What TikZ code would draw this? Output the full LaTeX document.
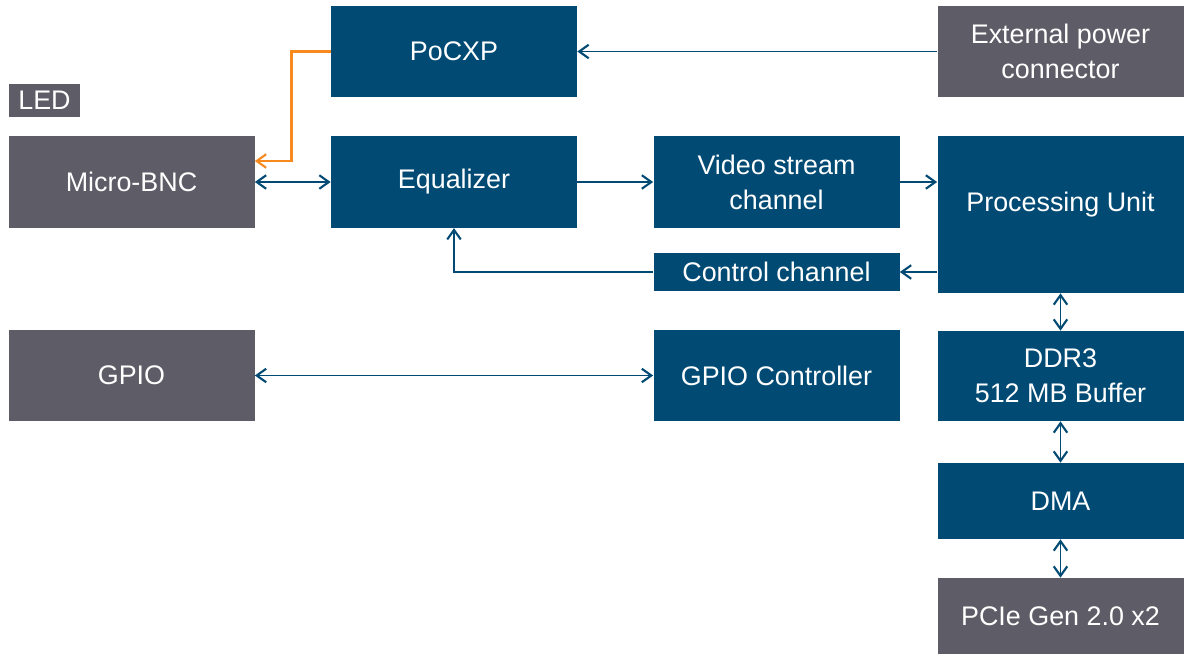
\documentclass[tikz,border=0pt]{standalone}
\usepackage{fontspec}
\setmainfont{Liberation Sans}
\usetikzlibrary{arrows.meta}
\definecolor{cxblue}{RGB}{0,74,116}
\definecolor{cxgrey}{RGB}{94,92,102}
\definecolor{cxorange}{RGB}{247,137,30}
\tikzset{
  blk/.style={fill=cxblue, text=white, inner sep=0pt, align=center,
    font=\fontsize{15.3}{20}\selectfont},
  ext/.style={blk, fill=cxgrey},
  big/.style={minimum width=4.92cm, minimum height=1.83cm},
  link/.style={draw=cxblue, line width=1pt}
}
\begin{document}
\begin{tikzpicture}[>={Straight Barb[length=1.9mm,width=2.7mm,line width=1.2pt]}]
      \useasboundingbox (0,0) rectangle (23.72,-13.1);
      \node[blk,big] (pocxp) at (9.08,-1.03) {PoCXP};
      \node[ext,big] (power) at (21.21,-1.03) {External power\\connector};
      \node[ext, minimum width=1.42cm, minimum height=0.66cm] (led) at (0.89,-2.01) {LED};
      \node[ext,big] (bnc) at (2.63,-3.64) {Micro-BNC};
      \node[blk,big] (eq) at (9.08,-3.64) {Equalizer};
      \node[blk,big] (video) at (15.53,-3.64) {Video stream\\channel};
      \node[blk, minimum width=4.92cm, minimum height=3.14cm] (pu) at (21.21,-4.29) {};
      \node[text=white, font=\fontsize{15.3}{20}\selectfont] (pu-txt) at (21.21,-4.1) {Processing Unit};
      \node[blk, minimum width=4.92cm, minimum height=0.76cm] (ctrl) at (15.53,-5.44) {Control channel};
      \node[ext,big] (gpio) at (2.63,-7.51) {GPIO};
      \node[blk,big] (gpioc) at (15.53,-7.51) {GPIO Controller};
      \node[blk, minimum width=4.92cm, minimum height=1.8cm] (ddr) at (21.21,-7.52) {DDR3\\512 MB Buffer};
      \node[blk, minimum width=4.92cm, minimum height=1.52cm] (dma) at (21.21,-10.02) {DMA};
      \node[ext, minimum width=4.92cm, minimum height=1.52cm] (pcie) at (21.21,-12.32) {PCIe Gen 2.0 x2};
      % power path
      \draw[->, draw=cxorange, line width=1.4pt] (pocxp.west) -- ++(-0.78,0) |- ([yshift=0.42cm]bnc.east);
      \draw[->, link] (power.west) -- (pocxp.east);
      % video path
      \draw[<->, link] (bnc.east) -- (eq.west);
      \draw[->, link] (eq.east) -- (video.west);
      \draw[->, link] (video.east) -- (pu.west |- video.east);
      \draw[->, link] (pu.west |- ctrl.west) -- (ctrl.east);
      \draw[->, link] (ctrl.west) -| (eq.south);
      % io
      \draw[<->, link] (gpio.east) -- (gpioc.west);
      \draw[<->, link] (pu.south) -- (ddr.north);
      \draw[<->, link] (ddr.south) -- (dma.north);
      \draw[<->, link] (dma.south) -- (pcie.north);
\end{tikzpicture}
\end{document}
